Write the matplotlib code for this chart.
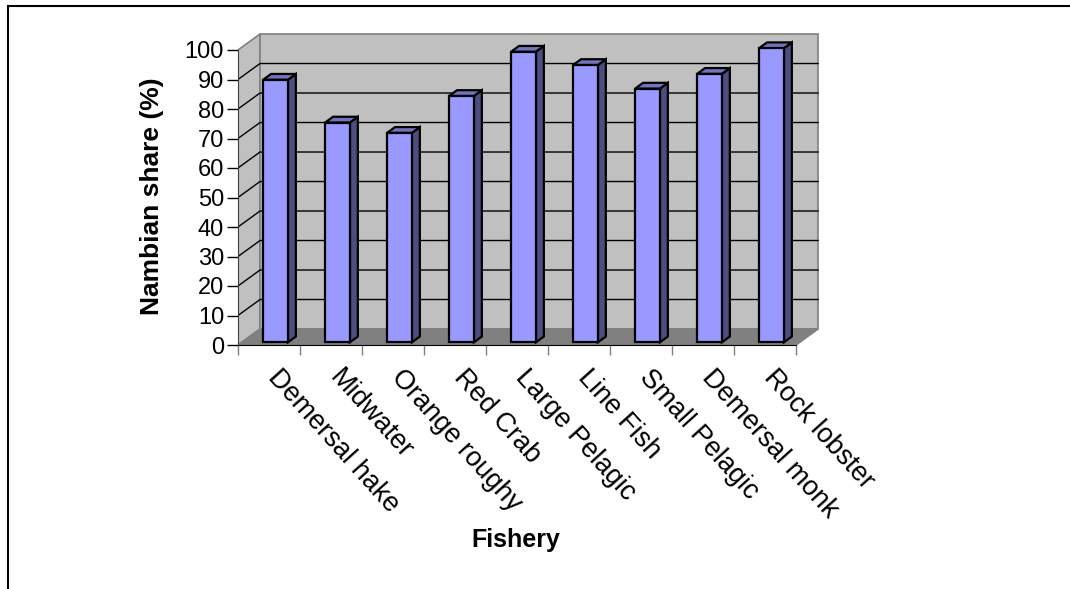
import matplotlib
matplotlib.use("Agg")
import matplotlib.pyplot as plt
from matplotlib.patches import Polygon
from matplotlib.lines import Line2D

plt.rcParams['font.family'] = ['Liberation Sans', 'DejaVu Sans']

fisheries = ["Demersal hake", "Midwater", "Orange roughy", "Red Crab",
             "Large Pelagic", "Line Fish", "Small Pelagic", "Demersal monk",
             "Rock lobster"]
namibian_share = [89, 74.5, 71, 83.5, 98.5, 94, 86, 91, 99.7]
yticks = list(range(0, 101, 10))

# pseudo-3d depth: how far the back wall sits right/up of the front plane (data units)
DX, DY = 0.355, 5.42
BAR_FRONT, BAR_DEPTH = 0.17, 0.36
BAR_W, BAR_SHIFT = 0.40, 0.045

W_PX, H_PX = 1070, 589
fig = plt.figure(figsize=(W_PX / 100, H_PX / 100), dpi=100)

# one category = 62 px, one percent = 2.95 px
x_px, y_px = 62.0, 2.95
xmax, ymax = 9.6, 107
ax = fig.add_axes([238 / W_PX, (H_PX - 345) / H_PX,
                   xmax * x_px / W_PX, ymax * y_px / H_PX])
ax.set_xlim(0, xmax)
ax.set_ylim(0, ymax)
ax.patch.set_visible(False)


def p(x, y, d=0.0):
    return (x + d * DX, y + d * DY)


n = len(fisheries)
wall = '#C0C0C0'
edge = '#808080'

# left side wall and back wall
ax.add_patch(Polygon([p(0, 0), p(0, 0, 1), p(0, 100, 1), p(0, 100)],
                     closed=True, fc=wall, ec=edge, lw=1.2, zorder=1))
ax.add_patch(Polygon([p(0, 0, 1), p(n, 0, 1), p(n, 100, 1), p(0, 100, 1)],
                     closed=True, fc=wall, ec=edge, lw=1.2, zorder=1))

# gridlines across side and back walls
for v in yticks[1:-1]:
    xs, ys = zip(p(0, v), p(0, v, 1), p(n, v, 1))
    ax.plot(xs, ys, color='black', lw=1.0, zorder=2)

# floor
ax.add_patch(Polygon([p(0, 0), p(n, 0), p(n, 0, 1), p(0, 0, 1)],
                     closed=True, fc='#808080', ec=edge, lw=1.2, zorder=3))

# bars: front, right side, top
for i, v in enumerate(namibian_share):
    x0 = i + 0.5 + BAR_SHIFT - BAR_W / 2
    x1 = x0 + BAR_W
    d0, d1 = BAR_FRONT, BAR_FRONT + BAR_DEPTH
    front = [p(x0, 0, d0), p(x1, 0, d0), p(x1, v, d0), p(x0, v, d0)]
    side = [p(x1, 0, d0), p(x1, 0, d1), p(x1, v, d1), p(x1, v, d0)]
    top = [p(x0, v, d0), p(x1, v, d0), p(x1, v, d1), p(x0, v, d1)]
    for pts, col in ((side, '#4D4D80'), (top, '#7373BF'), (front, '#9999FF')):
        ax.add_patch(Polygon(pts, closed=True, fc=col, ec='black', lw=1.6,
                             joinstyle='miter', zorder=4))

# axes lines and ticks
for s in ('top', 'right'):
    ax.spines[s].set_visible(False)
ax.spines['left'].set_bounds(0, 100)
ax.spines['bottom'].set_bounds(0, n)
ax.spines['left'].set_color('#404040')
ax.spines['bottom'].set_color('black')
ax.spines['left'].set_zorder(5)
ax.spines['bottom'].set_zorder(5)
ax.set_yticks(yticks)
ax.set_yticklabels([str(t) for t in yticks])
ax.tick_params(axis='y', direction='out', length=8, width=1.0, pad=2,
               labelsize=17, color='black')
ax.set_xticks(range(n + 1))
ax.set_xticklabels([])
ax.tick_params(axis='x', direction='out', length=7, width=1.0, color=edge)

for i, name in enumerate(fisheries):
    ax.text(i + 0.5 + 0.2, -6.5, name, rotation=-48, rotation_mode='anchor',
            ha='left', va='top', fontsize=19.5, clip_on=False)

fig.text(152 / W_PX, 1 - 196 / H_PX, 'Nambian share (%)', rotation=90,
         ha='center', va='center', fontsize=19, fontweight='bold')
fig.text(516 / W_PX, 1 - 540 / H_PX, 'Fishery', ha='center', va='center',
         fontsize=18, fontweight='bold')

# chart frame (top and left edges visible)
fig.add_artist(Line2D([8 / W_PX, 1.0], [1 - 6 / H_PX, 1 - 6 / H_PX],
                      color='black', lw=1.5))
fig.add_artist(Line2D([8 / W_PX, 8 / W_PX], [0.0, 1 - 6 / H_PX],
                      color='black', lw=1.5))

fig.savefig('out.png', dpi=100)
